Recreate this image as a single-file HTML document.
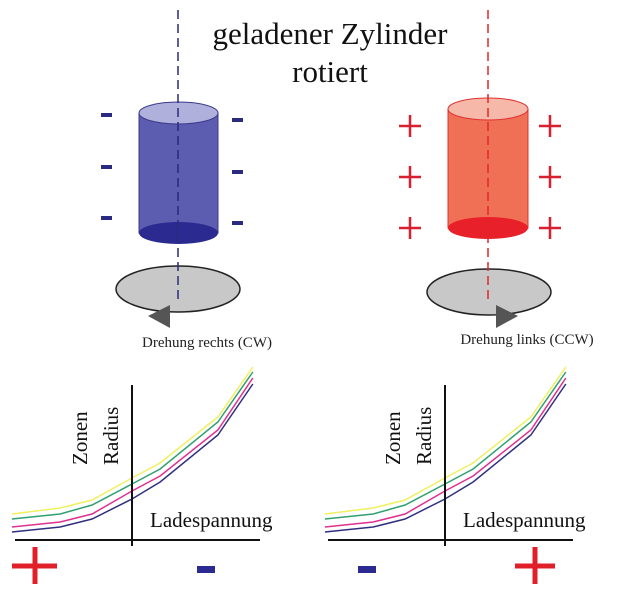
<!DOCTYPE html>
<html><head><meta charset="utf-8"><style>
body{margin:0;background:#fff;width:640px;height:598px;overflow:hidden}
svg{display:block;font-family:"Liberation Serif",serif}
</style></head><body>
<svg width="640" height="598" viewBox="0 0 640 598">
<text x="330" y="44" font-size="31" text-anchor="middle" fill="#111">geladener Zylinder</text>
<text x="330" y="82" font-size="31" text-anchor="middle" fill="#111">rotiert</text>

<g>
<ellipse cx="178" cy="289" rx="62" ry="23" fill="#c8c8c8" stroke="#222" stroke-width="1.5"/>
<polygon points="148,316 170,305 170,328" fill="#555"/>
<rect x="139" y="113" width="79" height="120" fill="#5c5cb0" stroke="#3a3a8a"/>
<ellipse cx="178.5" cy="233" rx="39.5" ry="11" fill="#2a2a90"/>
<ellipse cx="178.5" cy="113" rx="39.5" ry="11" fill="#b0b0dc" stroke="#3a3a8a"/>
<line x1="178" y1="10" x2="178" y2="300" stroke="#2a2a7a" stroke-width="1.5" stroke-dasharray="9,5"/>
<g fill="#2a2a80">
<rect x="101" y="113" width="11" height="4"/><rect x="101" y="165" width="11" height="4"/><rect x="101" y="216" width="11" height="4"/>
<rect x="232" y="118" width="11" height="4"/><rect x="232" y="170" width="11" height="4"/><rect x="232" y="221" width="11" height="4"/>
</g>
<text x="207" y="347" font-size="15" text-anchor="middle" fill="#222">Drehung rechts (CW)</text>
</g>

<g>
<ellipse cx="489" cy="292" rx="62" ry="23" fill="#c8c8c8" stroke="#222" stroke-width="1.5"/>
<polygon points="518,316 496,305 496,328" fill="#555"/>
<rect x="448" y="109" width="80" height="119" fill="#f07055" stroke="#e03030"/>
<ellipse cx="488" cy="228" rx="40" ry="11" fill="#e8202a"/>
<ellipse cx="488" cy="109" rx="40" ry="11" fill="#f6b8a8" stroke="#e03030"/>
<line x1="488" y1="10" x2="488" y2="300" stroke="#e02828" stroke-width="1.5" stroke-dasharray="9,5"/>
<g stroke="#d82030" stroke-width="2.5">
<path d="M399 126h22M410 115v22M399 177h22M410 166v22M399 228h22M410 217v22"/>
<path d="M539 126h22M550 115v22M539 177h22M550 166v22M539 228h22M550 217v22"/>
</g>
<text x="527" y="344" font-size="15" text-anchor="middle" fill="#222">Drehung links (CCW)</text>
</g>

<g id="charts"></g>
<g>
<path d="M12 566h45M35 547v37" stroke="#e02028" stroke-width="5"/>
<rect x="197" y="566" width="18" height="7" fill="#2a2a90"/>
</g>
<g>
<rect x="358" y="566" width="18" height="7" fill="#2a2a90"/>
<path d="M515 566h40M535 547v37" stroke="#e02028" stroke-width="5"/>
</g>
</svg>
<script>
const xVals = [-3.16, -1.89, -1.05, 0, 0.74, 2.26, 3.18];
const yellowVals = [2.6, 3.2, 4.0, 6.2, 7.7, 12.3, 17.3];
const greenVals = [2.1, 2.6, 3.5, 5.6, 7.1, 11.8, 16.8];
const pinkVals = [1.3, 1.8, 2.6, 4.9, 6.4, 11.0, 16.2];
const blueVals = [0.8, 1.3, 2.1, 4.1, 5.8, 10.5, 15.6];
const seriesColors = ['#f0f060','#30a070','#e03090','#303080'];
const ns = 'http://www.w3.org/2000/svg';
const root = document.getElementById('charts');
function drawChart(ox, side){
  const g = document.createElementNS(ns,'g');
  
  
  root.appendChild(g);
  const sx = v => ox + v*38;
  const sy = v => 540 - v*10;
  [yellowVals, greenVals, pinkVals, blueVals].forEach((arr,i)=>{
    const p = document.createElementNS(ns,'polyline');
    p.setAttribute('points', arr.map((v,j)=>sx(xVals[j])+','+sy(v)).join(' '));
    p.setAttribute('fill','none');
    p.setAttribute('stroke',seriesColors[i]);
    p.setAttribute('stroke-width','1.5');
    
    
    g.appendChild(p);
  });
  const xa = document.createElementNS(ns,'line');
  xa.setAttribute('x1',ox-117); xa.setAttribute('x2',ox+128);
  xa.setAttribute('y1',540); xa.setAttribute('y2',540);
  xa.setAttribute('stroke','#111'); xa.setAttribute('stroke-width','2');
  
  
  g.appendChild(xa);
  const ya = document.createElementNS(ns,'line');
  ya.setAttribute('x1',ox); ya.setAttribute('x2',ox);
  ya.setAttribute('y1',385); ya.setAttribute('y2',546);
  ya.setAttribute('stroke','#111'); ya.setAttribute('stroke-width','2');
  
  
  g.appendChild(ya);
  const xt = document.createElementNS(ns,'text');
  xt.setAttribute('x',ox+18); xt.setAttribute('y',527);
  xt.setAttribute('font-size','21'); xt.setAttribute('fill','#111');
  xt.textContent='Ladespannung';
  
  
  g.appendChild(xt);
  [['Zonen',ox-45],['Radius',ox-14]].forEach(([t,x])=>{
    const tt = document.createElementNS(ns,'text');
    tt.setAttribute('transform','translate('+x+',465) rotate(-90)');
    tt.setAttribute('font-size','21'); tt.setAttribute('fill','#111');
    tt.setAttribute('text-anchor','start');
    tt.textContent=t;
    
    
    g.appendChild(tt);
  });
}
drawChart(132,'left');
drawChart(445,'right');
</script>
</body></html>
